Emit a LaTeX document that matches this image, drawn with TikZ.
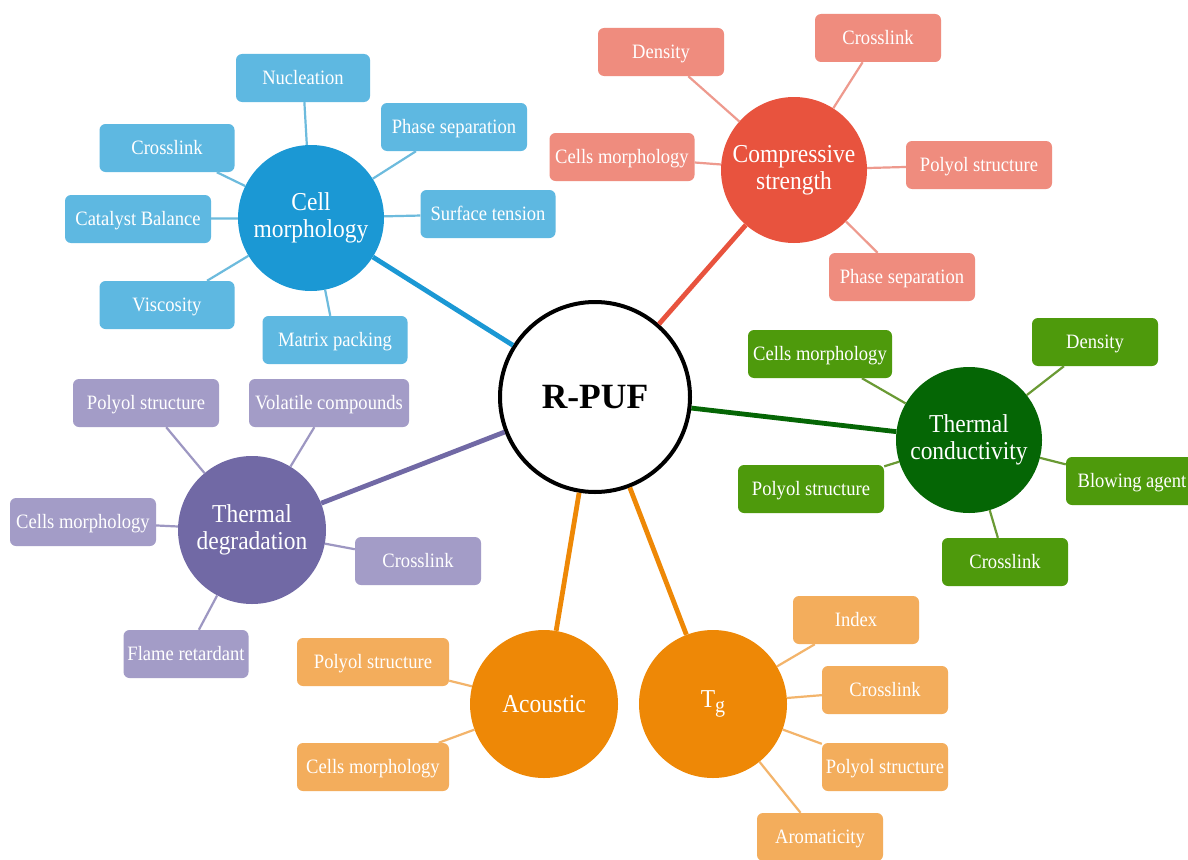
\documentclass[tikz,border=0pt]{standalone}
\usepackage{fontspec}
\setmainfont{Liberation Serif}[FakeStretch=0.91]
\newfontfamily\hubfont{Liberation Serif}
\definecolor{blueC}{HTML}{1B98D4}
\definecolor{blueB}{HTML}{5EB8E1}
\definecolor{blueL}{HTML}{6DBBDD}
\definecolor{redC}{HTML}{E8533E}
\definecolor{redB}{HTML}{EF8C7E}
\definecolor{redL}{HTML}{EE9A8E}
\definecolor{greenC}{HTML}{056605}
\definecolor{greenB}{HTML}{4E9A0C}
\definecolor{greenL}{HTML}{6A9A34}
\definecolor{purpleC}{HTML}{7169A5}
\definecolor{purpleB}{HTML}{A39CC7}
\definecolor{purpleL}{HTML}{9D97C2}
\definecolor{orangeC}{HTML}{EE8806}
\definecolor{orangeB}{HTML}{F3AD5C}
\definecolor{orangeL}{HTML}{F3B46B}
\tikzset{
  bx/.style={rectangle, rounded corners=6pt, minimum height=48pt, inner sep=0pt, text=white,
     text height=16pt, text depth=3pt,
     font=\fontsize{20.4}{24}\selectfont},
  hub/.style={circle, minimum size=146pt, inner sep=0pt, text=white, align=center,
     font=\fontsize{25.8}{27}\selectfont},
  thin/.style={line width=2.2pt},
  thick/.style={line width=4.8pt}
}
\begin{document}
\begin{tikzpicture}[x=1pt,y=-1pt]
\useasboundingbox (0,0) rectangle (1188,859);
\fill[white] (0,0) rectangle (1188,859);
\clip (0,0) rectangle (1188,859);

% hubs
\node[circle, draw=black, line width=4pt, fill=white, minimum size=190pt, inner sep=0pt,
  font=\hubfont\fontsize{35.5}{40}\selectfont\bfseries] (rpuf) at (595,397) {R-PUF};
\node[hub, fill=blueC] (cm) at (311,218) {Cell\\morphology};
\node[hub, fill=redC] (cs) at (794,170) {Compressive\\strength};
\node[hub, fill=greenC] (tc) at (969,440) {Thermal\\conductivity};
\node[hub, fill=purpleC, minimum size=148pt] (td) at (252,530) {Thermal\\degradation};
\node[hub, fill=orangeC, minimum size=148pt] (ac) at (544,704) {Acoustic};
\node[hub, fill=orangeC, minimum size=148pt] (tg) at (713,704) {T\raisebox{-0.4ex}{\fontsize{22}{22}\selectfont g}};

% blue boxes
\node[bx, fill=blueB, minimum width=134pt] (b1) at (303,78) {Nucleation};
\node[bx, fill=blueB, minimum width=146pt] (b2) at (454,127) {Phase separation};
\node[bx, fill=blueB, minimum width=135pt] (b3) at (167,148) {Crosslink};
\node[bx, fill=blueB, minimum width=146pt] (b4) at (138,219) {Catalyst Balance};
\node[bx, fill=blueB, minimum width=135pt] (b5) at (488,214) {Surface tension};
\node[bx, fill=blueB, minimum width=135pt] (b6) at (167,305) {Viscosity};
\node[bx, fill=blueB, minimum width=145pt] (b7) at (335,340) {Matrix packing};

% red boxes
\node[bx, fill=redB, minimum width=126pt] (r1) at (661,52) {Density};
\node[bx, fill=redB, minimum width=126pt] (r2) at (878,38) {Crosslink};
\node[bx, fill=redB, minimum width=145pt] (r3) at (622,157) {Cells morphology};
\node[bx, fill=redB, minimum width=146pt] (r4) at (979,165) {Polyol structure};
\node[bx, fill=redB, minimum width=146pt] (r5) at (902,277) {Phase separation};

% green boxes
\node[bx, fill=greenB, minimum width=144pt] (g1) at (820,354) {Cells morphology};
\node[bx, fill=greenB, minimum width=126pt] (g2) at (1095,342) {Density};
\node[bx, fill=greenB, minimum width=146pt] (g3) at (811,489) {Polyol structure};
\node[bx, fill=greenB, minimum width=132pt] (g4) at (1132,481) {Blowing agent};
\node[bx, fill=greenB, minimum width=126pt] (g5) at (1005,562) {Crosslink};

% purple boxes
\node[bx, fill=purpleB, minimum width=146pt] (p1) at (146,403) {Polyol structure};
\node[bx, fill=purpleB, minimum width=160pt] (p2) at (329,403) {Volatile compounds};
\node[bx, fill=purpleB, minimum width=146pt] (p3) at (83,522) {Cells morphology};
\node[bx, fill=purpleB, minimum width=126pt] (p4) at (418,561) {Crosslink};
\node[bx, fill=purpleB, minimum width=125pt] (p5) at (186,654) {Flame retardant};

% orange boxes (acoustic)
\node[bx, fill=orangeB, minimum width=152pt] (a1) at (373,662) {Polyol structure};
\node[bx, fill=orangeB, minimum width=152pt] (a2) at (373,767) {Cells morphology};

% orange boxes (Tg)
\node[bx, fill=orangeB, minimum width=126pt] (t1) at (856,620) {Index};
\node[bx, fill=orangeB, minimum width=126pt] (t2) at (885,690) {Crosslink};
\node[bx, fill=orangeB, minimum width=126pt] (t3) at (885,767) {Polyol structure};
\node[bx, fill=orangeB, minimum width=126pt] (t4) at (820,837) {Aromaticity};

% main connectors
\draw[thick, draw=blueC] (rpuf) -- (cm);
\draw[thick, draw=redC] (rpuf) -- (cs);
\draw[thick, draw=greenC] (rpuf) -- (tc);
\draw[thick, draw=purpleC] (rpuf) -- (td);
\draw[thick, draw=orangeC] (rpuf) -- (ac);
\draw[thick, draw=orangeC] (rpuf) -- (tg);

% sub connectors
\foreach \b in {b1,b2,b3,b4,b5,b6,b7} \draw[thin, draw=blueL] (cm) -- (\b);
\foreach \b in {r1,r2,r3,r4,r5} \draw[thin, draw=redL] (cs) -- (\b);
\foreach \b in {g1,g2,g3,g4,g5} \draw[thin, draw=greenL] (tc) -- (\b);
\foreach \b in {p1,p2,p3,p4,p5} \draw[thin, draw=purpleL] (td) -- (\b);
\foreach \b in {a1,a2} \draw[thin, draw=orangeL] (ac) -- (\b);
\foreach \b in {t1,t2,t3,t4} \draw[thin, draw=orangeL] (tg) -- (\b);
\end{tikzpicture}
\end{document}
